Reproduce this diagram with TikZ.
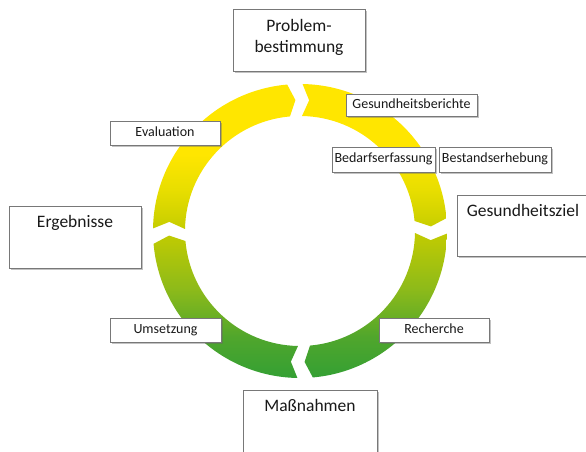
\documentclass[tikz,border=0pt]{standalone}
\usepackage{fontspec}
\setmainfont{Carlito}
\usetikzlibrary{shadows}
\definecolor{g0}{RGB}{52,160,52}
\definecolor{g1}{RGB}{80,166,44}
\definecolor{g2}{RGB}{140,186,26}
\definecolor{g3}{RGB}{196,204,0}
\definecolor{g4}{RGB}{232,222,0}
\definecolor{g5}{RGB}{255,230,0}
\definecolor{boxline}{RGB}{120,120,120}
\definecolor{txt}{RGB}{25,25,25}
\pgfdeclareverticalshading{ringshade}{100bp}{color(0bp)=(g0); color(25bp)=(g0); color(32bp)=(g1); color(40bp)=(g2); color(50bp)=(g3); color(57bp)=(g4); color(63bp)=(g5); color(100bp)=(g5)}
\tikzset{
  box/.style={draw=boxline, line width=0.9pt, fill=white,
    drop shadow={shadow xshift=2pt, shadow yshift=-2pt, opacity=0.4, fill=black!60},
    inner sep=0pt, text=txt},
  smallbox/.style={box, font=\fontsize{14}{16}\selectfont, text height=9.8pt, text depth=3pt},
  bigbox/.style={box, minimum width=132pt, minimum height=62pt},
  bigtext/.style={inner sep=0pt, text=txt, font=\fontsize{17.5}{20.5}\selectfont, align=center},
}
\begin{document}
\begin{tikzpicture}[x=1pt,y=1pt]
\useasboundingbox (0,0) rectangle (586,-452);
\begin{scope}
\clip (0,0) rectangle (586,-452);
% ring of four clockwise arrows
\begin{scope}[shift={(300,-231)}]
\shade[shading=ringshade]
  (89:147pt) arc[start angle=89, end angle=5, radius=147pt] -- (2:131pt) -- (5:115pt)
     arc[start angle=5, end angle=89, radius=115pt] -- (86:131pt) -- cycle
  (-1:147pt) arc[start angle=-1, end angle=-85, radius=147pt] -- (-88:131pt) -- (-85:115pt)
     arc[start angle=-85, end angle=-1, radius=115pt] -- (-4:131pt) -- cycle
  (-91:147pt) arc[start angle=-91, end angle=-175, radius=147pt] -- (-178:131pt) -- (-175:115pt)
     arc[start angle=-175, end angle=-91, radius=115pt] -- (-94:131pt) -- cycle
  (179:147pt) arc[start angle=179, end angle=95, radius=147pt] -- (92:131pt) -- (95:115pt)
     arc[start angle=95, end angle=179, radius=115pt] -- (176:131pt) -- cycle;
\end{scope}
% big boxes
\node[bigbox] (prob) at (299,-40) {};
\node[bigtext, anchor=north] (probt) at (299,-19.5) {Problem-\\bestimmung};
\node[bigbox] (erg) at (75,-237) {};
\node[bigtext, anchor=base] (ergt) at (75,-227.5) {Ergebnisse};
\node[bigbox, minimum height=61pt] (ziel) at (523,-225.5) {};
\node[bigtext, anchor=base] (zielt) at (523,-216.5) {Gesundheitsziel};
\node[bigbox, minimum width=134pt, minimum height=64pt] (mass) at (310,-422) {};
\node[bigtext, anchor=base] (masst) at (310,-411.5) {Maßnahmen};
% small boxes
\node[smallbox, minimum width=131pt, minimum height=22pt] (gb) at (411.5,-105) {Gesundheitsberichte};
\node[smallbox, minimum width=103pt, minimum height=25pt] (bed) at (383.5,-159.5) {Bedarfserfassung};
\node[smallbox, minimum width=112pt, minimum height=25pt] (best) at (495,-159.5) {Bestandserhebung};
\node[smallbox, minimum width=110pt, minimum height=24pt] (eval) at (165,-133) {Evaluation};
\node[smallbox, minimum width=111pt, minimum height=24pt] (ums) at (165.5,-330) {Umsetzung};
\node[smallbox, minimum width=110pt, minimum height=24pt] (rech) at (434,-330) {Recherche};
\end{scope}
\end{tikzpicture}
\end{document}
